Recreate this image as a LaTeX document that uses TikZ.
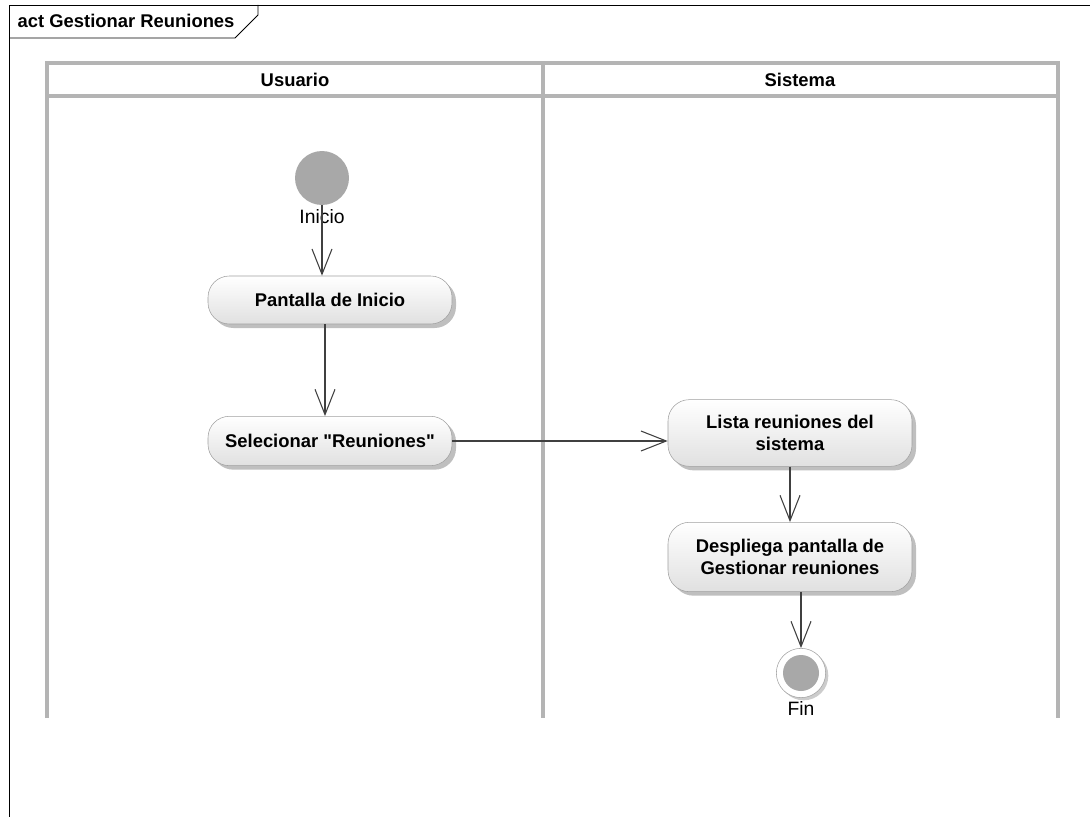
\documentclass[tikz,border=0pt]{standalone}
\usepackage{fontspec}
\setmainfont{Liberation Sans}
\usetikzlibrary{arrows.meta,shadows}
\definecolor{lanegray}{HTML}{B4B4B4}
\definecolor{nodegray}{HTML}{A8A8A8}
\definecolor{edgegray}{HTML}{A0A0A0}
\definecolor{flowgray}{HTML}{404040}
\tikzset{
  accion/.style={draw=edgegray, rounded corners=16pt, align=center,
    top color=white, bottom color=black!12, minimum width=183pt,
    font=\fontsize{13.8}{16}\selectfont\bfseries,
    drop shadow={shadow xshift=3pt, shadow yshift=-3pt, fill=black!25, opacity=1}},
  flujo/.style={draw=flowgray, line width=0.8pt, -{Straight Barb[length=19pt,width=15pt,line width=0.8pt]}},
  carril/.style={draw=lanegray, line width=2.4pt},
  etiqueta/.style={font=\fontsize{14.5}{16}\selectfont},
  cabecera/.style={font=\fontsize{13.8}{16}\selectfont\bfseries},
}
\begin{document}
\begin{tikzpicture}[x=0.75pt,y=-0.75pt]
\useasboundingbox (0,0) rectangle (1090,817);
% frame
\draw[black, line width=0.7pt] (1090,5) -- (9,5) -- (9,817);
\draw[black, line width=0.7pt] (9,38) -- (235,38) -- (258,15) -- (258,5);
\node[anchor=west, cabecera] (titulo) at (13,21) {act Gestionar Reuniones};
% swimlanes
\draw[carril] (47,718) -- (47,63) -- (1058,63) -- (1058,718);
\draw[carril] (47,96) -- (1058,96);
\draw[carril] (543,63) -- (543,718);
\node[cabecera] (usuario) at (295,80) {Usuario};
\node[cabecera] (sistema) at (800,80) {Sistema};
% nodes
\node[circle, fill=nodegray, minimum size=40.5pt, inner sep=0pt] (inicio) at (322,178) {};
\node[etiqueta] (lblinicio) at (322,217) {Inicio};
\node[accion, minimum height=36pt] (pantalla) at (330,300) {Pantalla de Inicio};
\node[accion, minimum height=37pt] (selec) at (330,441) {Selecionar \textquotedbl Reuniones\textquotedbl};
\node[accion, minimum height=50pt] (lista) at (790,433) {Lista reuniones del\\sistema};
\node[accion, minimum height=52pt] (despliega) at (790,557) {Despliega pantalla de\\Gestionar reuniones};
\node[circle, draw=edgegray, fill=white, minimum size=37pt, inner sep=0pt,
  drop shadow={shadow xshift=2pt, shadow yshift=-2pt, fill=black!20, opacity=1}] (fin) at (801,673) {};
\node[circle, fill=nodegray, minimum size=27pt, inner sep=0pt] (finin) at (fin) {};
\node[etiqueta] (lblfin) at (801,708) {Fin};
% flows
\draw[flujo] (inicio.south) -- (inicio.south |- pantalla.north);
\draw[flujo] (pantalla.south -| 325,0) -- (selec.north -| 325,0);
\draw[flujo] (selec.east) -- (selec.east -| lista.west);
\draw[flujo] (lista) -- (despliega);
\draw[flujo] (despliega.south -| fin) -- (fin.north);
\end{tikzpicture}
\end{document}
